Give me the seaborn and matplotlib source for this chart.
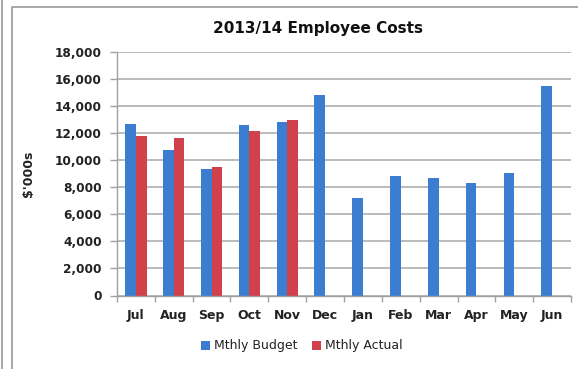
import matplotlib
matplotlib.use("Agg")
import matplotlib.pyplot as plt
import seaborn as sns
import pandas as pd
import numpy as np
from matplotlib.patches import Rectangle
from matplotlib.lines import Line2D
from matplotlib.ticker import FuncFormatter, FixedLocator

months = ["Jul", "Aug", "Sep", "Oct", "Nov", "Dec", "Jan", "Feb", "Mar", "Apr", "May", "Jun"]
budget = [12700, 10750, 9320, 12640, 12800, 14790, 7210, 8820, 8720, 8330, 9020, 15460]
actual = [11820, 11650, 9470, 12170, 12980, np.nan, np.nan, np.nan, np.nan, np.nan, np.nan, np.nan]
series = ["Mthly Budget", "Mthly Actual"]
yticks = [0, 2000, 4000, 6000, 8000, 10000, 12000, 14000, 16000, 18000]

df = pd.DataFrame({
    "Month": months * 2,
    "Value": budget + actual,
    "Series": [series[0]] * len(months) + [series[1]] * len(months),
})

sns.set_theme(style="white")
plt.rcParams["font.family"] = ["DejaVu Sans"]

fig = plt.figure(figsize=(5.78, 3.69), dpi=100)
ax = fig.add_axes([117 / 578, 1 - 295.5 / 369, (571 - 117) / 578, (295.5 - 52) / 369])

palette = {series[0]: "#3b7dd0", series[1]: "#d0414b"}
sns.barplot(data=df, x="Month", y="Value", hue="Series", order=months,
            hue_order=series, palette=palette, width=0.56, ax=ax,
            saturation=1, edgecolor="none", legend=True)

ax.set_ylim(0, 18000)
ax.set_xlim(-0.5, len(months) - 0.5)
ax.yaxis.set_major_locator(FixedLocator(yticks))
ax.yaxis.set_major_formatter(FuncFormatter(lambda v, p: f"{int(v):,}"))
ax.grid(axis="y", color="#a8a8a8", linewidth=1.1)
ax.set_axisbelow(True)

for s in ["top", "right"]:
    ax.spines[s].set_visible(False)
for s in ["left", "bottom"]:
    ax.spines[s].set_color("#a0a0a0")
    ax.spines[s].set_linewidth(1.0)

ax.tick_params(axis="y", which="major", length=5, width=1, color="#a0a0a0",
               labelsize=8.7, labelcolor="#222222", pad=6, left=True)
ax.tick_params(axis="x", which="major", length=0, labelsize=9, labelcolor="#222222", pad=10)
ax.set_xticks(np.arange(-0.5, len(months), 1.0), minor=True)
ax.tick_params(axis="x", which="minor", length=4, width=1, color="#a0a0a0", bottom=True)
for lab in ax.get_yticklabels() + ax.get_xticklabels():
    lab.set_fontweight("bold")

ax.set_xlabel("")
ax.set_ylabel("$'000s", fontsize=9, fontweight="bold", color="#222222", labelpad=14)

fig.text(318 / 578, 1 - 29 / 369, "2013/14 Employee Costs", ha="center", va="center",
         fontsize=11, fontweight="bold", color="#111111")

leg = ax.legend(loc="center", bbox_to_anchor=(302 / 578, 1 - 346 / 369),
                bbox_transform=fig.transFigure, ncol=2, frameon=False,
                fontsize=9, handlelength=0.7, handleheight=0.7, handletextpad=0.3,
                columnspacing=1.2)
for t in leg.get_texts():
    t.set_color("#222222")

fig.patches.append(Rectangle((12.5 / 578, -0.05), 1.2, 1 - 7 / 369 + 0.05,
                             transform=fig.transFigure, fill=False,
                             edgecolor="#9a9a9a", linewidth=1.2))
fig.lines.append(Line2D([2 / 578, 2 / 578], [0, 1], transform=fig.transFigure,
                        color="#9a9a9a", linewidth=1.2))

fig.savefig("out.png", dpi=100)
